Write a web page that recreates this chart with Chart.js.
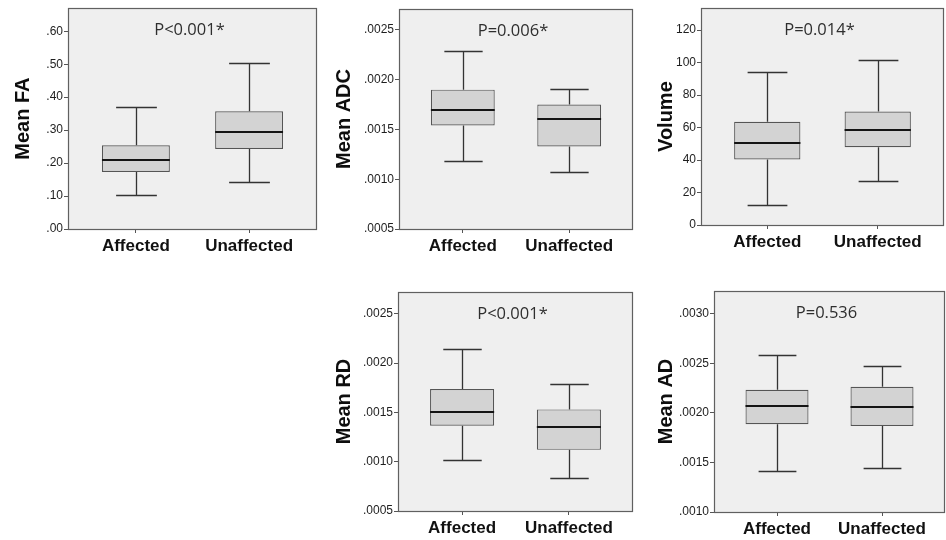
<!DOCTYPE html>
<html>
<head>
<meta charset="utf-8">
<script src="https://cdn.jsdelivr.net/npm/chart.js@4.4.1/dist/chart.umd.min.js"></script>
<style>
  body { margin: 0; background: #fff; width: 946px; height: 540px; position: relative; overflow: hidden; }
  canvas { position: absolute; }
</style>
</head>
<body>
<canvas id="cFA" width="320" height="270" style="left:0;top:0"></canvas>
<canvas id="cADC" width="316" height="270" style="left:320px;top:0"></canvas>
<canvas id="cVol" width="310" height="270" style="left:636px;top:0"></canvas>
<canvas id="cRD" width="316" height="260" style="left:320px;top:280px"></canvas>
<canvas id="cAD" width="310" height="260" style="left:636px;top:280px"></canvas>
<script>
// grupos
const groups = ['Affected', 'Unaffected'];

// cada caja: [bigote inferior, Q1, mediana, Q3, bigote superior]
const faAffected = [0.103, 0.173, 0.208, 0.254, 0.370];
const faUnaffected = [0.144, 0.243, 0.293, 0.357, 0.504];
const adcAffected = [0.00118, 0.00154, 0.00170, 0.00190, 0.00229];
const adcUnaffected = [0.00107, 0.00133, 0.00160, 0.00175, 0.00191];
const volAffected = [12.3, 40.3, 50.5, 63.6, 94.3];
const volUnaffected = [27.4, 47.9, 58.3, 69.9, 101.8];
const rdAffected = [0.00102, 0.001365, 0.00150, 0.001736, 0.002145];
const rdUnaffected = [0.00083, 0.00112, 0.001351, 0.00153, 0.00179];
const adAffected = [0.00141, 0.001885, 0.00207, 0.002233, 0.00258];
const adUnaffected = [0.001443, 0.001868, 0.002064, 0.002264, 0.002476];

// valores de p
const pLabels = ['P<0.001*', 'P=0.006*', 'P=0.014*', 'P<0.001*', 'P=0.536'];

// marcas del eje y
const faTicks = [0, 0.1, 0.2, 0.3, 0.4, 0.5, 0.6];
const faTickLabels = ['.00', '.10', '.20', '.30', '.40', '.50', '.60'];
const adcTicks = [0.0005, 0.0010, 0.0015, 0.0020, 0.0025];
const adcTickLabels = ['.0005', '.0010', '.0015', '.0020', '.0025'];
const volTicks = [0, 20, 40, 60, 80, 100, 120];
const volTickLabels = ['0', '20', '40', '60', '80', '100', '120'];
const rdTicks = [0.0005, 0.0010, 0.0015, 0.0020, 0.0025];
const rdTickLabels = ['.0005', '.0010', '.0015', '.0020', '.0025'];
const adTicks = [0.0010, 0.0015, 0.0020, 0.0025, 0.0030];
const adTickLabels = ['.0010', '.0015', '.0020', '.0025', '.0030'];

// plugin: fondo, bigotes, medianas, marco y texto de p
const boxPlugin = {
  id: 'boxes',
  beforeDraw(chart) {
    const a = chart.chartArea, ctx = chart.ctx;
    ctx.save();
    ctx.fillStyle = '#efefef';
    ctx.fillRect(a.left, a.top, a.right - a.left, a.bottom - a.top);
    ctx.restore();
  },
  beforeDatasetsDraw(chart, args, opts) {
    const ctx = chart.ctx, y = chart.scales.y;
    const meta = chart.getDatasetMeta(0);
    ctx.save();
    ctx.strokeStyle = '#333';
    ctx.lineWidth = 1.3;
    opts.stats.forEach((s, i) => {
      const bar = meta.data[i];
      const cx = Math.round(bar.x) + 0.5;
      const cap = bar.width * 0.3;
      const yLo = Math.round(y.getPixelForValue(s[0])) + 0.5;
      const yQ1 = y.getPixelForValue(s[1]);
      const yQ3 = y.getPixelForValue(s[3]);
      const yHi = Math.round(y.getPixelForValue(s[4])) + 0.5;
      ctx.beginPath();
      ctx.moveTo(cx, yHi); ctx.lineTo(cx, yQ3);
      ctx.moveTo(cx, yQ1); ctx.lineTo(cx, yLo);
      ctx.moveTo(cx - cap, yHi); ctx.lineTo(cx + cap, yHi);
      ctx.moveTo(cx - cap, yLo); ctx.lineTo(cx + cap, yLo);
      ctx.stroke();
    });
    ctx.restore();
  },
  afterDatasetsDraw(chart, args, opts) {
    const ctx = chart.ctx, y = chart.scales.y;
    const meta = chart.getDatasetMeta(0);
    ctx.save();
    ctx.strokeStyle = '#141414';
    ctx.lineWidth = 2;
    opts.stats.forEach((s, i) => {
      const bar = meta.data[i];
      const ym = Math.round(y.getPixelForValue(s[2]));
      ctx.beginPath();
      ctx.moveTo(bar.x - bar.width / 2, ym);
      ctx.lineTo(bar.x + bar.width / 2, ym);
      ctx.stroke();
    });
    ctx.restore();
  },
  afterDraw(chart, args, opts) {
    const a = chart.chartArea, ctx = chart.ctx;
    ctx.save();
    ctx.strokeStyle = '#606060';
    ctx.lineWidth = 1.2;
    ctx.strokeRect(Math.round(a.left) + 0.5, Math.round(a.top) + 0.5,
      Math.round(a.right - a.left) - 1, Math.round(a.bottom - a.top));
    ctx.fillStyle = '#2e2e2e';
    ctx.font = '16.5px "Open Sans"';
    ctx.textAlign = 'center';
    ctx.textBaseline = 'middle';
    ctx.fillText(opts.label, (a.left + a.right) / 2 - 3, a.top + 22);
    ctx.restore();
  }
};

function makeBoxChart(id, o) {
  return new Chart(document.getElementById(id), {
    type: 'bar',
    data: {
      datasets: [{
        data: o.stats.map((s, i) => ({ x: i, y: [s[1], s[3]] })),
        backgroundColor: '#d3d3d3',
        borderColor: '#555',
        borderWidth: 1.2,
        borderSkipped: false,
        barPercentage: 0.6,
        categoryPercentage: 1
      }]
    },
    plugins: [boxPlugin],
    options: {
      responsive: false,
      animation: false,
      layout: { padding: { top: o.top, right: o.right, left: 0, bottom: 0 } },
      plugins: {
        legend: { display: false },
        tooltip: { enabled: false },
        boxes: { stats: o.stats, label: o.label }
      },
      scales: {
        x: {
          type: 'linear',
          min: -0.6,
          max: 1.6,
          offset: false,
          afterBuildTicks: (sc) => { sc.ticks = groups.map((g, i) => ({ value: i })); },
          afterFit: (sc) => { sc.height = o.xh; },
          grid: { offset: false, drawOnChartArea: false, drawTicks: true, tickLength: 4, color: '#555' },
          border: { display: false },
          ticks: {
            autoSkip: false,
            maxRotation: 0,
            padding: 3,
            color: '#111',
            font: { family: '"Liberation Sans", Arial, sans-serif', size: 17, weight: 'bold' },
            callback: (v) => groups[v]
          }
        },
        y: {
          min: o.min,
          max: o.max,
          afterBuildTicks: (sc) => { sc.ticks = o.ticks.map(v => ({ value: v })); },
          afterFit: (sc) => { sc.width = o.yw; },
          grid: { drawOnChartArea: false, drawTicks: true, tickLength: 4, color: '#555' },
          border: { display: false },
          ticks: {
            padding: 1,
            color: '#1e1e1e',
            font: { family: '"Liberation Sans", Arial, sans-serif', size: 12 },
            callback: (v, i) => o.tickLabels[i]
          },
          title: {
            display: true,
            text: o.title,
            color: '#0e0e0e',
            padding: { top: o.tpad },
            font: { family: '"Liberation Sans", Arial, sans-serif', size: 20, weight: 'bold' }
          }
        }
      }
    }
  });
}

makeBoxChart('cFA', { stats: [faAffected, faUnaffected], label: pLabels[0], title: 'Mean FA',
  min: 0, max: 0.67, ticks: faTicks, tickLabels: faTickLabels, top: 8, right: 3, xh: 41, yw: 68, tpad: 11 });
makeBoxChart('cADC', { stats: [adcAffected, adcUnaffected], label: pLabels[1], title: 'Mean ADC',
  min: 0.0005, max: 0.00271, ticks: adcTicks, tickLabels: adcTickLabels, top: 9, right: 3, xh: 41, yw: 79, tpad: 12 });
makeBoxChart('cVol', { stats: [volAffected, volUnaffected], label: pLabels[2], title: 'Volume',
  min: 0, max: 133.5, ticks: volTicks, tickLabels: volTickLabels, top: 8, right: 2, xh: 45, yw: 65, tpad: 18 });
makeBoxChart('cRD', { stats: [rdAffected, rdUnaffected], label: pLabels[3], title: 'Mean RD',
  min: 0.0005, max: 0.00272, ticks: rdTicks, tickLabels: rdTickLabels, top: 12, right: 3, xh: 29, yw: 78, tpad: 12 });
makeBoxChart('cAD', { stats: [adAffected, adUnaffected], label: pLabels[4], title: 'Mean AD',
  min: 0.001, max: 0.00323, ticks: adTicks, tickLabels: adTickLabels, top: 11, right: 1, xh: 28, yw: 78, tpad: 18 });
</script>
</body>
</html>
